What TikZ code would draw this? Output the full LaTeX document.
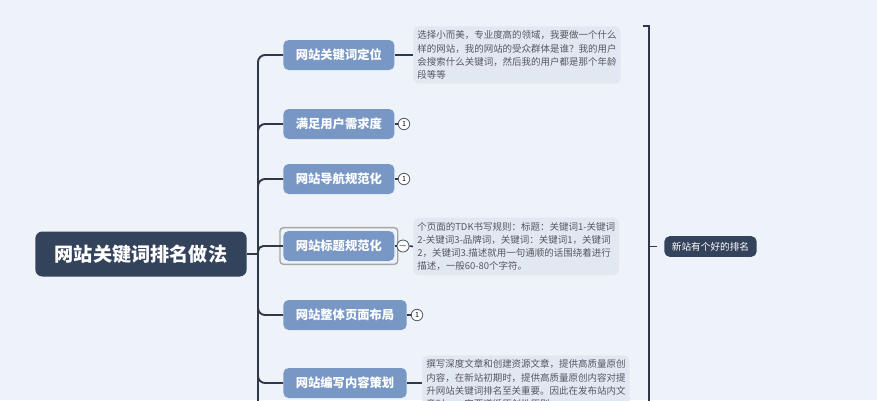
\documentclass[tikz,border=0pt]{standalone}
\usepackage{fontspec}
\setmainfont{Noto Sans CJK SC}
\definecolor{bgcol}{RGB}{238,243,250}
\definecolor{navy}{RGB}{52,67,92}
\definecolor{steel}{RGB}{121,151,196}
\definecolor{notefill}{RGB}{226,232,241}
\definecolor{notetext}{RGB}{85,88,95}
\definecolor{linecol}{RGB}{46,56,72}
\begin{document}
\begin{tikzpicture}[x=0.02cm,y=-0.02cm,
	rootbox/.style={fill=navy,text=white,rounded corners=4pt,inner xsep=0.39cm,minimum height=0.9cm,font=\fontsize{10.9}{13}\selectfont\bfseries},
	topicbox/.style={fill=steel,text=white,rounded corners=3pt,inner xsep=0.25cm,minimum height=0.6cm,font=\fontsize{7}{8}\selectfont\bfseries},
	notebox/.style={fill=notefill,text=notetext,rounded corners=3pt,inner xsep=0.08cm,inner ysep=0.09cm,align=left,font=\fontsize{5.4}{7.5}\selectfont},
	sumbox/.style={fill=navy,text=white,rounded corners=3pt,inner xsep=0.15cm,minimum height=0.38cm,font=\fontsize{5.5}{7}\selectfont},
	marker/.style={circle,draw=linecol!80,fill=white,line width=0.5pt,inner sep=0pt,minimum size=0.23cm,font=\fontsize{4}{4}\selectfont},
	branch/.style={draw=linecol,line width=1.1pt,rounded corners=4pt},
	twig/.style={draw=linecol,line width=0.9pt},
	selbox/.style={draw=gray!70,line width=0.8pt,rounded corners=2pt}]

	% Hintergrund
	\fill[bgcol] (0,0) rectangle (877,400);
	\useasboundingbox (0,0) rectangle (877,400);
	\clip (0,0) rectangle (877,400);

	% Wurzel
	\node[rootbox] (root) at (141,254) {网站关键词排名做法};
	\coordinate (trunk) at (258,254);
	\coordinate (trunkend) at (258,420);

	% Themen
	\node[topicbox,anchor=west] (t1) at (283,55) {网站关键词定位};
	\node[topicbox,anchor=west] (t2) at (283,124) {满足用户需求度};
	\node[topicbox,anchor=west] (t3) at (283,179) {网站导航规范化};
	\node[topicbox,anchor=west] (t4) at (283,246) {网站标题规范化};
	\node[topicbox,anchor=west] (t5) at (283,315) {网站整体页面布局};
	\node[topicbox,anchor=west] (t6) at (283,383) {网站编写内容策划};

	\draw[selbox] ([shift={(-3,-3)}]t4.north west) rectangle ([shift={(3,3)}]t4.south east);

	% Aeste
	\draw[branch] (root.east) -- (trunk);
	\draw[branch] (trunk) |- (t1.west);
	\draw[branch] (trunk) |- (t2.west);
	\draw[branch] (trunk) |- (t3.west);
	\draw[branch,rounded corners=3pt] (trunk) |- (t4.west);
	\draw[branch] (trunk) |- (t5.west);
	\draw[branch] (trunk) |- (t6.west);
	\draw[branch] (trunk) -- (trunkend);

	% Notizen
	\node[notebox,anchor=west] (n1) at (413,55) {选择小而美，专业度高的领域，我要做一个什么\\样的网站，我的网站的受众群体是谁？我的用户\\会搜索什么关键词，然后我的用户都是那个年龄\\段等等};
	\node[notebox,anchor=west] (n2) at (413,246.5) {个页面的TDK书写规则：标题：关键词1-关键词\\2-关键词3-品牌词，关键词：关键词1，关键词\\2，关键词3.描述就用一句通顺的话围绕着进行\\描述，一般60-80个字符。};
	\node[notebox,anchor=north west] (n3) at (422,355) {撰写深度文章和创建资源文章，提供高质量原创\\内容，在新站初期时，提供高质量原创内容对提\\升网站关键词排名至关重要。因此在发布站内文\\章时，一定要遵循原创性原则};

	% Marker
	\node[marker] (m2) at (404,124) {1};
	\node[marker] (m3) at (404,179) {1};
	\node[marker] (m4) at (403,246) {$-$};
	\node[marker] (m5) at (417,315) {1};

	\draw[twig] (t1.east) -- (n1.west);
	\draw[twig] (t2.east) -- (m2.west);
	\draw[twig] (t3.east) -- (m3.west);
	\draw[twig] (t4.east) -- (m4.west);
	\draw[twig] (m4.east) -- (n2.west);
	\draw[twig] (t5.east) -- (m5.west);
	\draw[twig] (t6.east) -- (t6.east -| n3.west);

	% Zusammenfassung
	\node[sumbox,anchor=west] (sum) at (664,246.5) {新站有个好的排名};
	\coordinate (brtop) at (643,26);
	\coordinate (brmid) at (649,246.5);
	\draw[twig] (brtop) -- ++(6,0) -- (649,420);
	\draw[twig] (brmid) -- ++(8,0);

\end{tikzpicture}
\end{document}
